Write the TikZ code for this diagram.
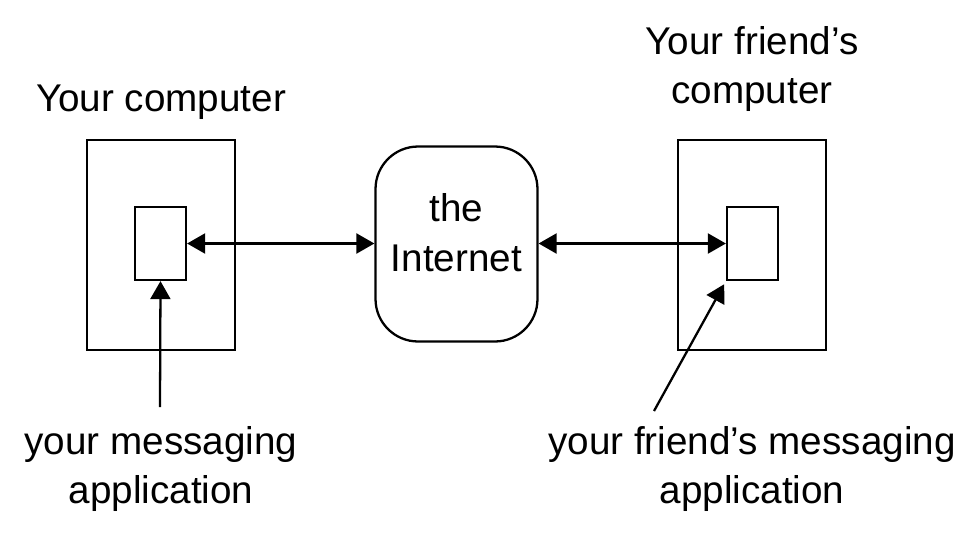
\documentclass[tikz,border=0pt]{standalone}
\usepackage{fontspec}
\setmainfont{Liberation Sans}
\usetikzlibrary{positioning}
\usetikzlibrary{arrows.meta}

\begin{document}
\begin{tikzpicture}
[x=0.02cm,y=-0.02cm,
  computer/.style={shape=rectangle,draw=black,line width=1.3pt,inner sep=0pt,
    minimum width=2.96cm,minimum height=4.2cm},
  app/.style={shape=rectangle,draw=black,fill=white,line width=1.3pt,inner sep=0pt,
    minimum width=1.02cm,minimum height=1.46cm},
  internet/.style={shape=rectangle,draw=black,line width=1.3pt,rounded corners=0.85cm,
    minimum width=3.24cm,minimum height=3.9cm,align=center,text depth=0.45cm,
    font=\fontsize{22}{28.4}\selectfont},
  caption/.style={align=center,inner sep=0pt,font=\fontsize{22}{28.4}\selectfont},
  link/.style={line width=1.3pt,-{Triangle[length=0.36cm,width=0.4cm]}},
  twoway/.style={link,{Triangle[length=0.36cm,width=0.4cm]}-{Triangle[length=0.36cm,width=0.4cm]}}]

\useasboundingbox (0,0) rectangle (977,532);

% the two machines and the net between them
\node (mybox) [computer] at (161,245) {};
\node (myapp) [app] at (160.5,243.5) {};
\node (net) [internet] at (456.5,244) {the\\Internet};
\node (friendbox) [computer] at (752,245) {};
\node (friendapp) [app] at (752.5,243.5) {};

% captions
\node (mytitle) [caption] at (161,102) {Your computer};
\node (friendtitle) [caption] at (752,69) {Your friend’s\\computer};
\node (mycaption) [caption] at (161,469) {your messaging\\application};
\node (friendcaption) [caption] at (752,469) {your friend’s messaging\\application};

\coordinate (mystart) at (160,407);
\coordinate (friendstart) at (654,411);

\draw [twoway] (myapp.east) -- (myapp.east -| net.west);
\draw [twoway] (net.east |- friendapp.west) -- (friendapp.west);
\draw [link] (mystart) -- (myapp.south);
\draw [link,shorten >=2pt] (friendstart) -- (friendapp.south west);
\end{tikzpicture}
\end{document}
